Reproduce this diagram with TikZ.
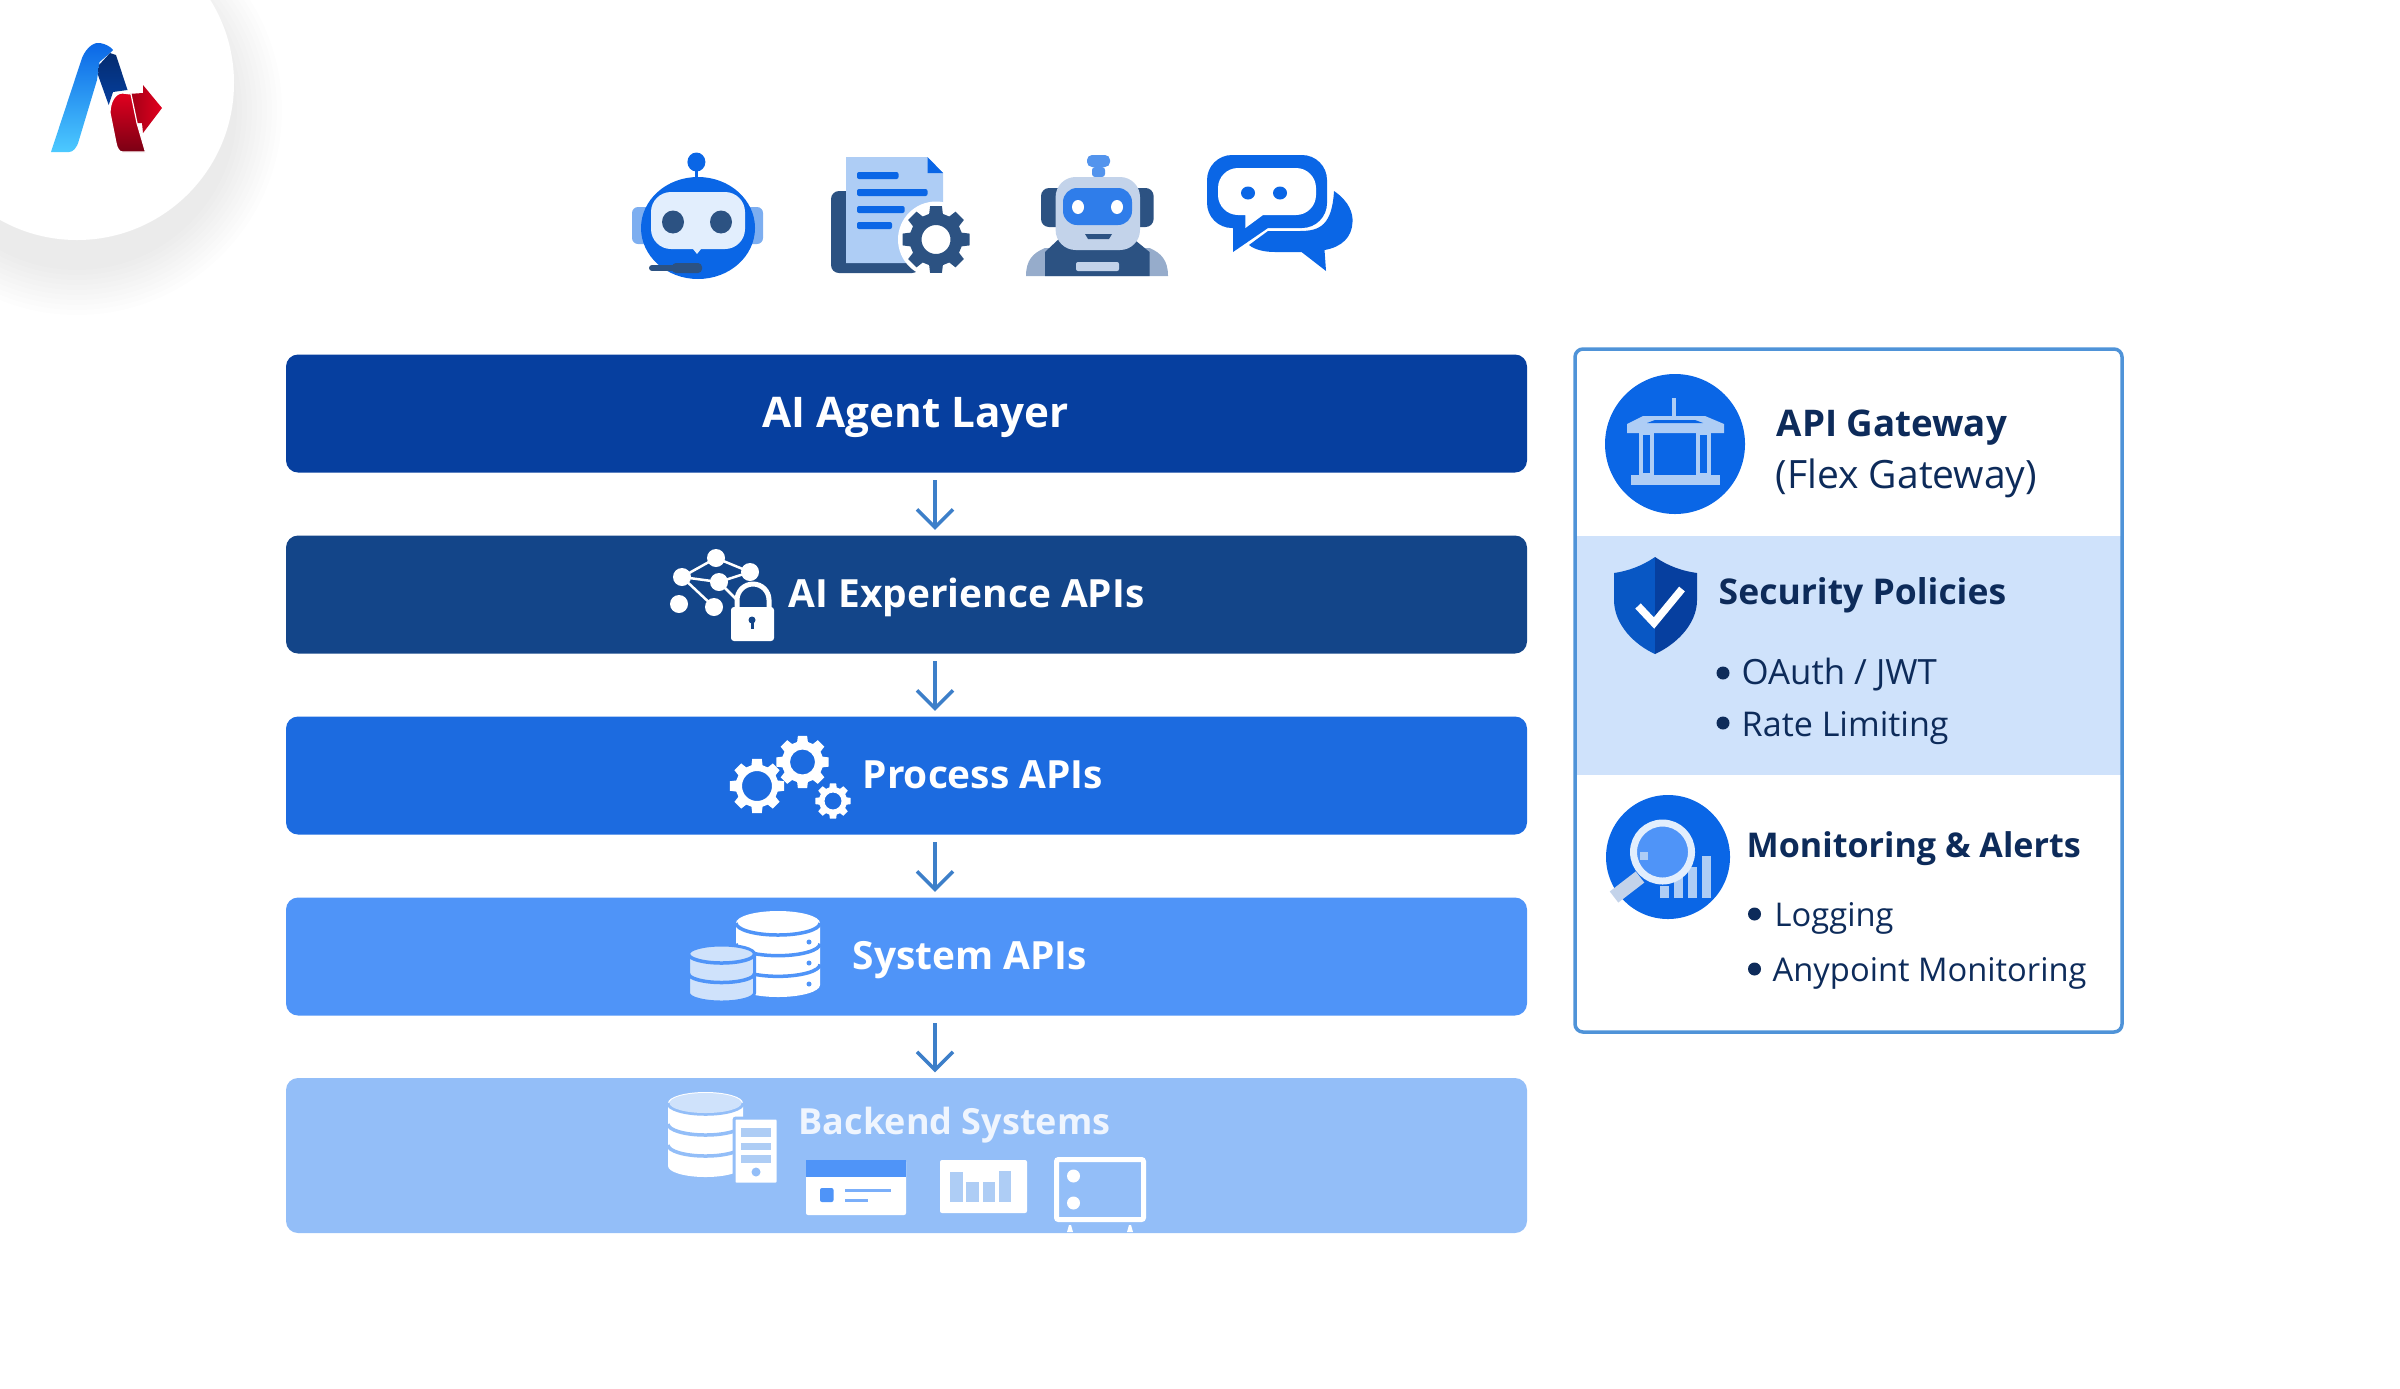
\documentclass[tikz,border=0pt]{standalone}
\usepackage{fontspec}
\setmainfont{Open Sans}
\usetikzlibrary{arrows.meta}

\definecolor{agentbar}{HTML}{063F9F}
\definecolor{expbar}{HTML}{134589}
\definecolor{procbar}{HTML}{1C6BE0}
\definecolor{sysbar}{HTML}{4F94F8}
\definecolor{backbar}{HTML}{93BEF8}
\definecolor{flowline}{HTML}{3D7FC9}
\definecolor{frameline}{HTML}{4F93D8}
\definecolor{band}{HTML}{CFE2FB}
\definecolor{inktext}{HTML}{0D2B5A}
\definecolor{iconblue}{HTML}{0A66E6}
\definecolor{iconnavy}{HTML}{2C5282}
\definecolor{iconpale}{HTML}{AECDF5}
\definecolor{iconmist}{HTML}{C3D3EA}
\definecolor{logored}{HTML}{E2001F}
\definecolor{logomaroon}{HTML}{7A0014}

\begin{document}
\begin{tikzpicture}[
        bar/.style={minimum width=12.41cm,minimum height=1.18cm,rounded corners=.12cm,inner sep=0pt},
        barlabel/.style={font=\bfseries\fontsize{11.05}{14}\selectfont,text=white,anchor=base west,inner sep=0pt},
        panel/.style={minimum width=5.47cm,minimum height=6.83cm,rounded corners=.08cm,inner sep=0pt,draw=frameline,line width=.035cm},
        paneltitle/.style={font=\bfseries\fontsize{10.1}{13}\selectfont,text=inktext,anchor=base west,inner sep=0pt},
        panelitem/.style={font=\fontsize{9.7}{12}\selectfont,text=inktext,anchor=base west,inner sep=0pt},
        bullet/.style={circle,fill=inktext,minimum size=.13cm,inner sep=0pt},
        flow/.style={draw=flowline,line width=.035cm,-{Straight Barb[length=.18cm,width=.36cm]},shorten <=.07cm,shorten >=.05cm},
        pics/gear/.style 2 args={code={
                \path[pic actions,even odd rule] (-10:#1) \foreach \a in {0,45,...,315} {
                        -- (\a-10:#1) -- (\a+10:#1) -- (\a+15:{.78*#1}) -- (\a+30:{.78*#1})
                } -- cycle (0,0) circle (#2);
        }},
        pics/dbstack/.style n args={5}{code={
                \path[pic actions] (-#1,0) -- (-#1,-#3) arc[start angle=180,end angle=360,x radius=#1,y radius=#2]
                        -- (#1,0) arc[start angle=0,end angle=180,x radius=#1,y radius=#2] -- cycle;
                \foreach \s in {1,...,#4} {
                        \draw[#5,line width=.035cm] (-#1,{-(\s-1)*#3/#4}) arc[start angle=180,end angle=360,x radius=#1,y radius=#2];
                }
        }}
]
        \useasboundingbox (0,0) rectangle (24,-13.88);

        \foreach \r in {1.6,1.65,...,2.05} {
                \fill[black,opacity=.008] (.77,-1.1) circle (\r);
        }
        \fill[white] (.77,-.83) circle (1.57);

        \shade[bottom color=blue!30!cyan!70!white,top color=iconblue] (.51,-1.52) -- (.82,-.58)
              .. controls (.87,-.46) and (.95,-.42) .. (1.0,-.43) .. controls (1.06,-.44) and (1.11,-.47) .. (1.13,-.5)
              -- (1.1,-.53) -- (.995,-.62) -- (.97,-.8) -- (.79,-1.4) .. controls (.77,-1.48) and (.73,-1.52) .. (.69,-1.52) -- cycle;
        \shade[top color=agentbar!70!black,bottom color=agentbar] (.99,-.65) -- (1.1,-.53) -- (1.16,-.55) -- (1.275,-.9)
              -- (1.13,-.92) -- (1.087,-1.05) -- (.98,-.75) -- cycle;
        \shade[left color=logored!70!black,right color=logored] (1.28,-.94) -- (1.43,-.93) -- (1.43,-.85) -- (1.62,-1.08)
              -- (1.43,-1.33) -- (1.42,-1.23) -- (1.37,-1.23) -- cycle;
        \shade[top color=logored,bottom color=logomaroon,draw=white,line width=.012cm] (1.1,-1.13)
              .. controls (1.1,-1.02) and (1.15,-.93) .. (1.225,-.93) -- (1.31,-.94) -- (1.37,-1.23) -- (1.455,-1.52)
              -- (1.225,-1.52) .. controls (1.19,-1.52) and (1.17,-1.48) .. (1.16,-1.43) -- cycle;

        \fill[iconpale!70!iconblue,rounded corners=.06cm] (6.32,-2.07) rectangle (7.63,-2.44);
        \fill[iconblue] (6.98,-2.28) ellipse (.57 and .51);
        \fill[iconblue] (6.964,-1.62) ellipse (.09 and .095);
        \draw[iconblue,line width=.03cm] (6.964,-1.7) -- (6.964,-1.8);
        \fill[band!60!white,rounded corners=.2cm] (6.51,-1.92) rectangle (7.45,-2.49);
        \fill[band!60!white] (6.93,-2.49) -- (7.01,-2.49) -- (6.97,-2.54) -- cycle;
        \fill[iconnavy] (6.73,-2.22) ellipse (.11 and .115);
        \fill[iconnavy] (7.21,-2.22) ellipse (.11 and .115);
        \draw[iconnavy,line width=.06cm,line cap=round] (6.52,-2.68) -- (6.9,-2.68);
        \fill[iconnavy,rounded corners=.04cm] (6.72,-2.63) rectangle (7.02,-2.73);

        \fill[iconnavy,rounded corners=.08cm] (8.31,-1.91) rectangle (9.2,-2.73);
        \fill[iconpale] (8.46,-1.57) -- (9.275,-1.57) -- (9.43,-1.73) -- (9.43,-2.63) -- (8.46,-2.63) -- cycle;
        \fill[iconblue] (9.275,-1.57) -- (9.43,-1.73) -- (9.275,-1.73) -- cycle;
        \fill[iconblue,rounded corners=.02cm] (8.57,-1.72) rectangle (8.985,-1.79);
        \fill[iconblue,rounded corners=.02cm] (8.57,-1.89) rectangle (9.275,-1.96);
        \fill[iconblue,rounded corners=.02cm] (8.57,-2.06) rectangle (9.046,-2.13);
        \fill[iconblue,rounded corners=.02cm] (8.57,-2.22) rectangle (8.92,-2.29);
        \fill[white] (9.36,-2.395) circle (.38);
        \pic[fill=iconnavy] at (9.36,-2.395) {gear={.34}{.145}};

        \fill[iconblue!70!white,rounded corners=.03cm] (10.92,-1.67) rectangle (11.05,-1.77);
        \fill[iconblue!70!white,rounded corners=.05cm] (10.87,-1.55) rectangle (11.1,-1.67);
        \fill[iconnavy,rounded corners=.08cm] (10.41,-1.88) rectangle (11.536,-2.27);
        \fill[iconmist!70!iconnavy] (10.26,-2.76) .. controls (10.26,-2.6) and (10.33,-2.53) .. (10.45,-2.48)
              -- (11.495,-2.48) .. controls (11.61,-2.53) and (11.68,-2.6) .. (11.68,-2.76) -- cycle;
        \fill[iconnavy] (10.45,-2.76) -- (10.45,-2.52) -- (10.62,-2.36) -- (11.3,-2.36) -- (11.495,-2.52) -- (11.495,-2.76) -- cycle;
        \fill[iconmist,rounded corners=.2cm] (10.556,-1.77) rectangle (11.4,-2.5);
        \fill[iconblue!85!white,rounded corners=.14cm] (10.63,-1.88) rectangle (11.32,-2.25);
        \fill[white] (10.78,-2.07) ellipse (.06 and .07);
        \fill[white] (11.17,-2.07) ellipse (.06 and .07);
        \fill[iconnavy] (10.85,-2.34) -- (11.12,-2.34) -- (11.09,-2.39) -- (10.88,-2.39) -- cycle;
        \fill[iconmist,rounded corners=.02cm] (10.76,-2.62) rectangle (11.19,-2.71);

        \fill[iconblue] (13.34,-1.91) .. controls (13.5,-2.02) and (13.53,-2.14) .. (13.525,-2.22)
              .. controls (13.52,-2.37) and (13.42,-2.47) .. (13.245,-2.5) -- (13.26,-2.71) -- (13.015,-2.52) -- (12.75,-2.52)
              .. controls (12.65,-2.52) and (12.55,-2.5) .. (12.49,-2.45) -- (12.68,-2.31) -- (13.0,-2.31)
              .. controls (13.2,-2.31) and (13.32,-2.25) .. (13.34,-1.91) -- cycle;
        \fill[iconblue] (12.33,-2.52) -- (12.33,-2.28) [rounded corners=.25cm] -- (12.07,-2.28) -- (12.07,-1.55)
              -- (13.27,-1.55) -- (13.27,-2.28) [sharp corners] -- (12.68,-2.28) -- cycle;
        \fill[white] (12.454,-2.28) -- (12.454,-2.15) [rounded corners=.2cm] -- (12.18,-2.15) -- (12.18,-1.68)
              -- (13.16,-1.68) -- (13.16,-2.15) [sharp corners] -- (12.63,-2.15) -- cycle;
        \fill[iconblue] (12.48,-1.93) ellipse (.07 and .065);
        \fill[iconblue] (12.8,-1.93) ellipse (.07 and .065);

        \node[bar,fill=agentbar] (agent) at (9.065,-4.135) {};
        \node[bar,fill=expbar] (exper) at (9.065,-5.945) {};
        \node[bar,fill=procbar] (proc) at (9.065,-7.755) {};
        \node[bar,fill=sysbar] (sys) at (9.065,-9.565) {};
        \node[bar,fill=backbar,minimum height=1.55cm] (back) at (9.065,-11.555) {};

        \draw[flow] ([xshift=.285cm]agent.south) -- ([xshift=.285cm]exper.north);
        \draw[flow] ([xshift=.285cm]exper.south) -- ([xshift=.285cm]proc.north);
        \draw[flow] ([xshift=.285cm]proc.south) -- ([xshift=.285cm]sys.north);
        \draw[flow] ([xshift=.285cm]sys.south) -- ([xshift=.285cm]back.north);

        \node[barlabel,font=\bfseries\fontsize{12}{14}\selectfont] (agenttext) at (7.62,-4.27) {AI Agent Layer};
        \node[barlabel] (expertext) at (7.88,-6.07) {AI Experience APIs};
        \node[barlabel] (proctext) at (8.62,-7.88) {Process APIs};
        \node[barlabel] (systext) at (8.52,-9.69) {System APIs};
        \node[barlabel,font=\bfseries\fontsize{10.25}{14}\selectfont,text=white!85!backbar] (backtext) at (7.98,-11.34) {Backend Systems};

        \draw[white,line width=.025cm] (7.16,-5.58) -- (6.82,-5.77) -- (7.19,-5.82) -- (7.5,-5.72) -- (7.16,-5.58);
        \draw[white,line width=.025cm] (6.82,-5.77) -- (7.14,-6.07);
        \draw[white,line width=.025cm] (7.19,-5.82) -- (7.37,-6.0);
        \foreach \p in {(7.16,-5.58),(7.5,-5.72),(6.82,-5.77),(7.19,-5.82),(6.79,-6.04),(7.14,-6.07)} {
                \fill[white] \p circle (.09);
        }
        \draw[white,line width=.05cm] (7.37,-6.1) -- (7.37,-6.0) arc[start angle=180,end angle=0,radius=.16] -- (7.69,-6.1);
        \fill[white,rounded corners=.03cm] (7.31,-6.07) rectangle (7.74,-6.41);
        \fill[expbar] (7.52,-6.2) circle (.035);
        \fill[expbar] (7.505,-6.2) rectangle (7.535,-6.29);

        \pic[fill=white] at (7.57,-7.86) {gear={.275}{.15}};
        \pic[fill=white] at (8.025,-7.62) {gear={.266}{.125}};
        \pic[fill=white] at (8.33,-8.01) {gear={.18}{.085}};

        \pic[fill=white] at (7.78,-9.23) {dbstack={.42}{.12}{.62}{3}{sysbar}};
        \fill[sysbar] (8.09,-9.42) circle (.025);
        \fill[sysbar] (8.09,-9.63) circle (.025);
        \fill[sysbar] (8.09,-9.84) circle (.025);
        \pic[fill=band,draw=sysbar,line width=.03cm] at (7.215,-9.54) {dbstack={.33}{.09}{.39}{2}{sysbar}};

        \pic[fill=white] at (7.055,-11.03) {dbstack={.375}{.11}{.63}{3}{backbar}};
        \fill[band] (7.055,-11.03) ellipse (.36 and .1);
        \filldraw[fill=white,draw=backbar,line width=.03cm,rounded corners=.02cm] (7.34,-11.18) rectangle (7.78,-11.84);
        \fill[iconpale] (7.405,-11.28) rectangle (7.71,-11.37);
        \fill[iconpale] (7.405,-11.43) rectangle (7.71,-11.5);
        \fill[iconpale] (7.405,-11.55) rectangle (7.71,-11.63);
        \fill[backbar] (7.56,-11.72) circle (.045);

        \fill[white,rounded corners=.02cm] (8.06,-11.6) rectangle (9.06,-12.15);
        \fill[sysbar] (8.06,-11.6) rectangle (9.06,-11.77);
        \fill[sysbar,rounded corners=.02cm] (8.2,-11.88) rectangle (8.335,-12.02);
        \draw[sysbar!75!white,line width=.03cm] (8.45,-11.9) -- (8.91,-11.9);
        \draw[sysbar!75!white,line width=.03cm] (8.45,-12.0) -- (8.68,-12.0);

        \fill[white,rounded corners=.02cm] (9.4,-11.6) rectangle (10.27,-12.13);
        \fill[iconpale] (9.5,-11.72) rectangle (9.625,-12.02);
        \fill[iconpale] (9.66,-11.82) rectangle (9.786,-12.02);
        \fill[iconpale] (9.83,-11.82) rectangle (9.95,-12.02);
        \fill[iconpale] (9.99,-11.71) rectangle (10.11,-12.02);

        \draw[white,line width=.05cm,rounded corners=.02cm] (10.565,-11.595) rectangle (11.435,-12.195);
        \fill[white] (10.735,-11.76) circle (.065);
        \fill[white] (10.735,-12.03) circle (.065);
        \fill[white] (10.67,-12.32) -- (10.73,-12.32) -- (10.71,-12.25) -- (10.69,-12.25) -- cycle;
        \fill[white] (11.27,-12.32) -- (11.33,-12.32) -- (11.31,-12.25) -- (11.29,-12.25) -- cycle;

        \fill[band] (15.75,-5.36) rectangle (21.22,-7.75);
        \node[panel] (gateway) at (18.485,-6.905) {};

        \fill[iconblue] (16.75,-4.44) circle (.7);
        \draw[iconpale,line width=.035cm] (16.74,-3.98) -- (16.74,-4.16);
        \fill[iconpale] (16.43,-4.16) -- (17.05,-4.16) -- (17.24,-4.24) -- (17.24,-4.33) -- (16.27,-4.33) -- (16.27,-4.24) -- cycle;
        \fill[iconblue] (16.55,-4.2) -- (16.95,-4.2) -- (17.03,-4.23) -- (16.47,-4.23) -- cycle;
        \draw[iconpale,line width=.035cm] (16.41,-4.33) rectangle (16.52,-4.75);
        \draw[iconpale,line width=.035cm] (16.98,-4.33) rectangle (17.09,-4.75);
        \fill[iconpale] (16.31,-4.75) rectangle (17.2,-4.85);

        \node[paneltitle,font=\bfseries\fontsize{10.45}{13}\selectfont] (gwtitle) at (17.76,-4.36) {API Gateway};
        \node[panelitem,font=\fontsize{11.1}{13}\selectfont] (gwsub) at (17.75,-4.88) {(Flex Gateway)};

        \fill[iconblue!85!black] (16.55,-5.57) .. controls (16.42,-5.66) and (16.28,-5.71) .. (16.14,-5.73) -- (16.14,-6.0)
              .. controls (16.14,-6.25) and (16.35,-6.45) .. (16.55,-6.54) -- cycle;
        \fill[agentbar] (16.55,-5.57) .. controls (16.68,-5.66) and (16.82,-5.71) .. (16.97,-5.73) -- (16.97,-6.0)
              .. controls (16.97,-6.25) and (16.75,-6.45) .. (16.55,-6.54) -- cycle;
        \draw[white,line width=.075cm] (16.38,-6.06) -- (16.54,-6.23) -- (16.82,-5.89);

        \node[paneltitle] (sectitle) at (17.18,-6.04) {Security Policies};
        \node[bullet] (secdota) at (17.23,-6.73) {};
        \node[bullet] (secdotb) at (17.23,-7.23) {};
        \node[panelitem,font=\fontsize{9.9}{12}\selectfont] (secitema) at (17.41,-6.84) {OAuth / JWT};
        \node[panelitem] (secitemb) at (17.41,-7.36) {Rate Limiting};

        \fill[iconblue] (16.68,-8.57) circle (.62);
        \foreach \x/\t in {16.6/8.86,16.74/8.77,16.88/8.67,17.02/8.56} {
                \fill[iconpale] (\x,-8.98) rectangle ++(.085,{8.98-\t});
        }
        \draw[iconmist,line width=.14cm] (16.4,-8.77) -- (16.14,-8.97);
        \fill[sysbar] (16.625,-8.52) circle (.28);
        \draw[band!60!white,line width=.07cm] (16.625,-8.52) circle (.29);
        \fill[iconpale] (16.4,-8.52) rectangle (16.48,-8.6);

        \node[paneltitle,font=\bfseries\fontsize{9.7}{13}\selectfont] (montitle) at (17.46,-8.57) {Monitoring \& Alerts};
        \node[bullet] (mondota) at (17.545,-9.14) {};
        \node[bullet] (mondotb) at (17.545,-9.69) {};
        \node[panelitem,font=\fontsize{9.3}{12}\selectfont] (monitema) at (17.74,-9.26) {Logging};
        \node[panelitem,font=\fontsize{9.3}{12}\selectfont] (monitemb) at (17.72,-9.81) {Anypoint Monitoring};
\end{tikzpicture}
\end{document}
